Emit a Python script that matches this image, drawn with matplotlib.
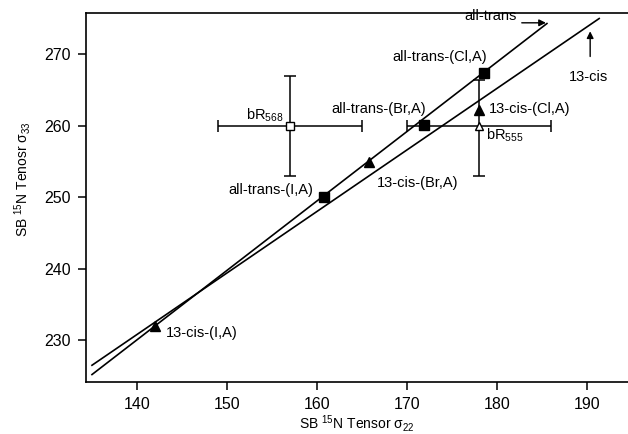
import matplotlib
matplotlib.use('Agg')
import matplotlib.pyplot as plt

plt.rcParams['font.family'] = ['Liberation Sans', 'DejaVu Sans']
plt.rcParams['mathtext.default'] = 'regular'

# fitted lines (end points)
trans_line_x = [135.0, 185.5]
trans_line_y = [225.2, 274.3]
cis_line_x = [135.0, 191.3]
cis_line_y = [226.5, 275.0]

# all-trans points (filled squares)
trans_x = [178.5, 171.8, 160.7]
trans_y = [267.4, 260.1, 250.0]
trans_names = ['all-trans-(Cl,A)', 'all-trans-(Br,A)', 'all-trans-(I,A)']

# 13-cis points (filled triangles)
cis_x = [178.0, 165.8, 142.0]
cis_y = [262.2, 254.9, 232.0]
cis_names = ['13-cis-(Cl,A)', '13-cis-(Br,A)', '13-cis-(I,A)']

# bacteriorhodopsin with error bars
bR568 = (157.0, 260.0)
bR555 = (178.0, 260.0)
bR_xerr = 8.0
bR_yerr = 7.0

fig = plt.figure(figsize=(6.28, 4.34), dpi=100)
ax = fig.add_axes([0.137, 0.1205, 0.863, 0.850])

ax.plot(trans_line_x, trans_line_y, color='black', lw=1.2)
ax.plot(cis_line_x, cis_line_y, color='black', lw=1.2)

ax.errorbar(*bR568, xerr=bR_xerr, yerr=bR_yerr, fmt='s', mfc='white', mec='black',
            ms=6, color='black', ecolor='black', elinewidth=1.1, capsize=4, capthick=1.1)
ax.errorbar(*bR555, xerr=bR_xerr, yerr=[[bR_yerr], [bR_yerr - 0.6]], fmt='^', mfc='white',
            mec='black', ms=6, color='black', ecolor='black', elinewidth=1.1, capsize=4,
            capthick=1.1)

ax.plot(trans_x, trans_y, 's', color='black', ms=7.5, zorder=5)
ax.plot(cis_x, cis_y, '^', color='black', ms=6.5, zorder=5)

fs = 10.5
ax.text(173.6, 269.6, trans_names[0], ha='center', va='center', fontsize=fs)
ax.text(166.8, 262.4, trans_names[1], ha='center', va='center', fontsize=fs)
ax.text(154.9, 251.0, trans_names[2], ha='center', va='center', fontsize=fs)
ax.text(183.6, 262.4, cis_names[0], ha='center', va='center', fontsize=fs)
ax.text(171.1, 252.0, cis_names[1], ha='center', va='center', fontsize=fs)
ax.text(143.2, 231.0, cis_names[2], ha='left', va='center', fontsize=fs)
ax.text(154.2, 261.5, r'bR$_{568}$', ha='center', va='center', fontsize=fs)
ax.text(178.75, 258.6, r'bR$_{555}$', ha='left', va='center', fontsize=fs)

ax.text(182.2, 275.4, 'all-trans', ha='right', va='center', fontsize=fs)
ax.annotate('', xy=(185.7, 274.4), xytext=(182.4, 274.4),
            arrowprops=dict(arrowstyle='-|>', color='black', lw=1.0, mutation_scale=10))
ax.text(190.1, 266.8, '13-cis', ha='center', va='center', fontsize=fs)
ax.annotate('', xy=(190.3, 273.6), xytext=(190.3, 269.3),
            arrowprops=dict(arrowstyle='-|>', color='black', lw=1.0, mutation_scale=10))

ax.set_xlim(134.34, 194.5)
ax.set_ylim(224.2, 275.8)
ax.set_xticks([140, 150, 160, 170, 180, 190])
ax.set_yticks([230, 240, 250, 260, 270])
ax.spines['right'].set_visible(False)
for s in ['left', 'bottom', 'top']:
    ax.spines[s].set_linewidth(1.2)
ax.tick_params(direction='out', length=6, width=1.1, labelsize=11.5, pad=5)

ax.set_xlabel(r'SB $^{15}$N Tensor $\sigma_{22}$', fontsize=10, labelpad=1)
ax.set_ylabel(r'SB $^{15}$N Tenosr $\sigma_{33}$', fontsize=10)
ax.yaxis.set_label_coords(-0.098, 0.55)

fig.savefig('out.png', dpi=100)
